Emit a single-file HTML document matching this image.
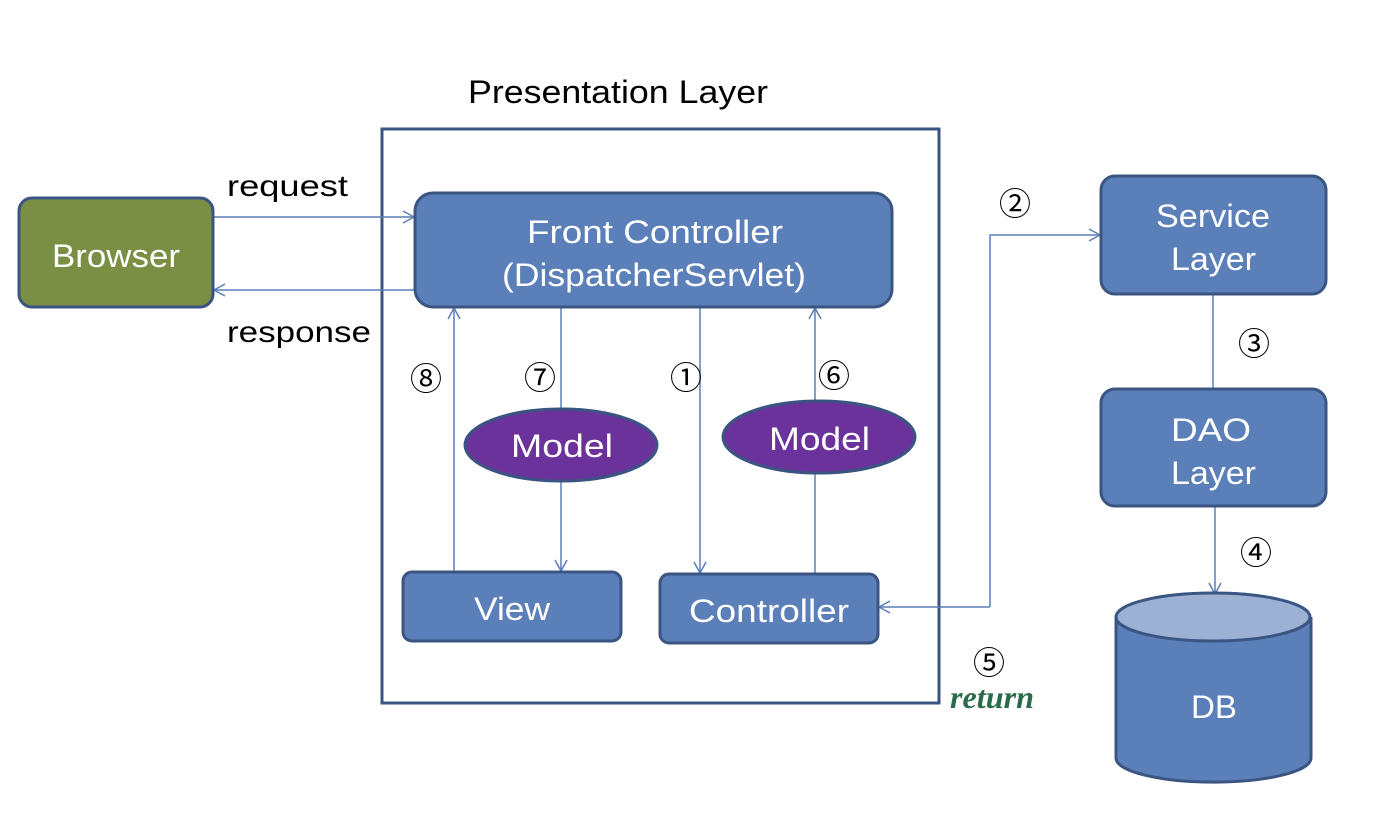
<!DOCTYPE html>
<html><head><meta charset="utf-8"><style>
html,body{margin:0;padding:0;background:#fff;}
svg text{font-family:"Liberation Sans","Noto Sans CJK KR",sans-serif;}
</style></head><body>
<svg width="1376" height="834" viewBox="0 0 1376 834" xmlns="http://www.w3.org/2000/svg">
<defs>
<marker id="a" markerWidth="14" markerHeight="14" refX="12" refY="7" orient="auto" markerUnits="userSpaceOnUse">
<path d="M1,1 L12,7 L1,13" fill="none" stroke="#5b7fb8" stroke-width="1.5"/>
</marker>
</defs>
<text x="468" y="103" font-size="32" fill="#000" textLength="300" lengthAdjust="spacingAndGlyphs">Presentation Layer</text>
<rect x="382" y="129" width="557" height="574" fill="none" stroke="#3b5582" stroke-width="3"/>
<g stroke="#5b7fb8" stroke-width="1.5" fill="none">
<line x1="213" y1="217" x2="414" y2="217" marker-end="url(#a)"/>
<line x1="415" y1="290" x2="214" y2="290" marker-end="url(#a)"/>
<line x1="454" y1="572" x2="454" y2="308" marker-end="url(#a)"/>
<line x1="561" y1="307" x2="561" y2="410"/>
<line x1="561" y1="480" x2="561" y2="571" marker-end="url(#a)"/>
<line x1="700" y1="307" x2="700" y2="573" marker-end="url(#a)"/>
<line x1="815" y1="574" x2="815" y2="472"/>
<line x1="815" y1="401" x2="815" y2="308" marker-end="url(#a)"/>
<polyline points="990,607 990,235 1100,235" marker-end="url(#a)"/>
<line x1="990" y1="607" x2="879" y2="607" marker-end="url(#a)"/>
<line x1="1213" y1="294" x2="1213" y2="389"/>
<line x1="1215" y1="506" x2="1215" y2="594" marker-end="url(#a)"/>
</g>
<g stroke="#3b5582" stroke-width="3">
<rect x="19" y="198" width="194" height="109" rx="13" fill="#7a8f44"/>
<rect x="415" y="193" width="477" height="114" rx="18" fill="#5b7fb8"/>
<rect x="1101" y="176" width="225" height="118" rx="14" fill="#5b7fb8"/>
<rect x="1101" y="389" width="225" height="117" rx="14" fill="#5b7fb8"/>
<rect x="403" y="572" width="218" height="69" rx="9" fill="#5b7fb8"/>
<rect x="660" y="574" width="218" height="69" rx="9" fill="#5b7fb8"/>
<ellipse cx="561" cy="445" rx="96" ry="36" fill="#6a329a"/>
<ellipse cx="819" cy="437" rx="96" ry="36" fill="#6a329a"/>
<path d="M1116,617 L1116,758 A97,24 0 0 0 1311,758 L1311,617" fill="#5b7fb8"/>
<ellipse cx="1213" cy="617" rx="97" ry="24" fill="#9db1d5"/>
</g>
<g fill="#fff" font-size="32">
<text x="52" y="267" textLength="128" lengthAdjust="spacingAndGlyphs">Browser</text>
<text x="527" y="243" textLength="256" lengthAdjust="spacingAndGlyphs">Front Controller</text>
<text x="502" y="286" textLength="304" lengthAdjust="spacingAndGlyphs">(DispatcherServlet)</text>
<text x="1156" y="227" textLength="114" lengthAdjust="spacingAndGlyphs">Service</text>
<text x="1171" y="270" textLength="85" lengthAdjust="spacingAndGlyphs">Layer</text>
<text x="1171" y="441" textLength="80" lengthAdjust="spacingAndGlyphs">DAO</text>
<text x="1171" y="484" textLength="85" lengthAdjust="spacingAndGlyphs">Layer</text>
<text x="474" y="620" textLength="76" lengthAdjust="spacingAndGlyphs">View</text>
<text x="689" y="622" textLength="160" lengthAdjust="spacingAndGlyphs">Controller</text>
<text x="511" y="457" textLength="102" lengthAdjust="spacingAndGlyphs">Model</text>
<text x="769" y="450" textLength="101" lengthAdjust="spacingAndGlyphs">Model</text>
<text x="1191" y="718" textLength="46" lengthAdjust="spacingAndGlyphs">DB</text>
</g>
<g fill="#000" font-size="30">
<text x="227" y="196" textLength="121" lengthAdjust="spacingAndGlyphs">request</text>
<text x="227" y="342" textLength="144" lengthAdjust="spacingAndGlyphs">response</text>
</g>
<g fill="#000" font-size="32" text-anchor="middle" style="font-family:'Noto Sans CJK KR','DejaVu Sans',sans-serif">
<text x="426" y="390">⑧</text>
<text x="540" y="389">⑦</text>
<text x="686" y="389">①</text>
<text x="834" y="387">⑥</text>
<text x="1015" y="215">②</text>
<text x="1254" y="355">③</text>
<text x="1256" y="564">④</text>
<text x="989" y="674">⑤</text>
</g>
<text x="950" y="708" font-size="32" fill="#2a6b4a" font-style="italic" font-weight="bold" style="font-family:'Liberation Serif',serif" textLength="84" lengthAdjust="spacingAndGlyphs">return</text>
</svg>
</body></html>
